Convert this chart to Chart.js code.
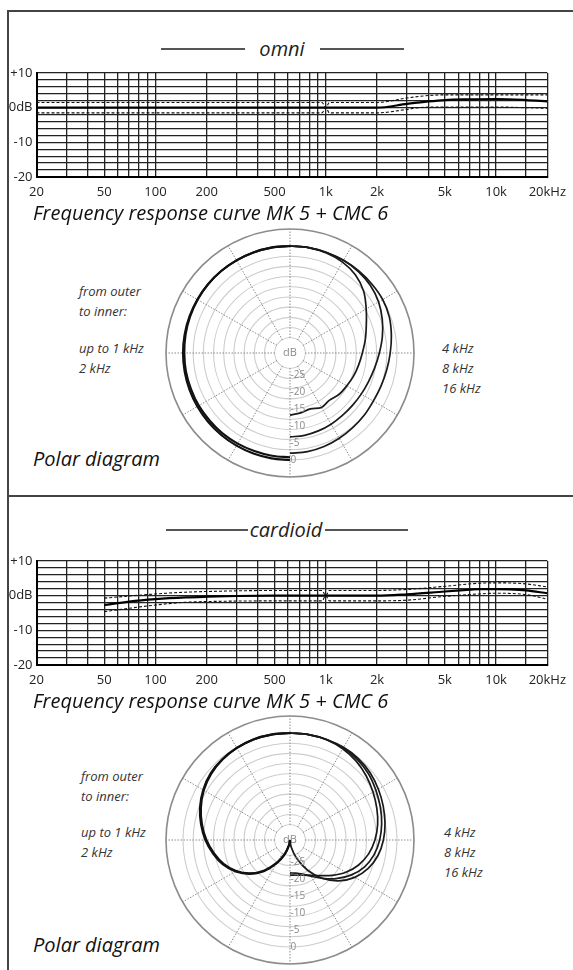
<!DOCTYPE html>
<html>
<head>
<meta charset="utf-8">
<script src="https://cdn.jsdelivr.net/npm/chart.js@4.4.1/dist/chart.umd.min.js"></script>
<style>
  body { margin: 0; background: #fff; }
  #page { position: relative; width: 573px; height: 970px; overflow: hidden; font-family: "Open Sans", "Noto Sans", sans-serif; color: #222; }
  .line { position: absolute; background: #444; }
  .rule { position: absolute; height: 1.5px; background: #555; }
  .title { position: absolute; font-size: 20px; font-style: italic; transform: translate(-50%, -50%); white-space: nowrap; color: #222; }
  .caption { position: absolute; font-size: 20px; font-style: italic; transform: translateY(-50%); white-space: nowrap; color: #111; }
  .note { position: absolute; font-size: 13px; font-style: italic; transform: translateY(-50%); white-space: nowrap; color: #333; }
  canvas { position: absolute; }
</style>
</head>
<body>
<div id="page">
  <!-- frame -->
  <div class="line" style="left:7px; top:10px; width:566px; height:1.5px"></div>
  <div class="line" style="left:7px; top:10px; width:1.5px; height:960px"></div>
  <div class="line" style="left:7px; top:495px; width:566px; height:1.5px"></div>

  <!-- omni -->
  <div class="rule" style="left:161px; top:48px; width:84px"></div>
  <div class="title" style="left:282px; top:48px">omni</div>
  <div class="rule" style="left:320px; top:48px; width:84px"></div>
  <canvas id="omniFreq" width="573" height="150" style="left:0; top:53px"></canvas>
  <div class="caption" style="left:33px; top:212px">Frequency response curve MK 5 + CMC 6</div>
  <canvas id="omniPolar" width="252" height="252" style="left:164px; top:227px"></canvas>
  <div class="note" style="left:79px; top:291px">from outer</div>
  <div class="note" style="left:79px; top:311px">to inner:</div>
  <div class="note" style="left:79px; top:348px">up to 1 kHz</div>
  <div class="note" style="left:79px; top:368px">2 kHz</div>
  <div class="note" style="left:442px; top:348px">4 kHz</div>
  <div class="note" style="left:442px; top:368px">8 kHz</div>
  <div class="note" style="left:442px; top:388px">16 kHz</div>
  <div class="caption" style="left:33px; top:458px">Polar diagram</div>

  <!-- cardioid -->
  <div class="rule" style="left:166px; top:529px; width:82px"></div>
  <div class="title" style="left:286px; top:529px">cardioid</div>
  <div class="rule" style="left:325px; top:529px; width:83px"></div>
  <canvas id="cardFreq" width="573" height="150" style="left:0; top:541px"></canvas>
  <div class="caption" style="left:33px; top:700px">Frequency response curve MK 5 + CMC 6</div>
  <canvas id="cardPolar" width="252" height="252" style="left:164px; top:714px"></canvas>
  <div class="note" style="left:81px; top:776px">from outer</div>
  <div class="note" style="left:81px; top:796px">to inner:</div>
  <div class="note" style="left:81px; top:832px">up to 1 kHz</div>
  <div class="note" style="left:81px; top:852px">2 kHz</div>
  <div class="note" style="left:444px; top:832px">4 kHz</div>
  <div class="note" style="left:444px; top:852px">8 kHz</div>
  <div class="note" style="left:444px; top:872px">16 kHz</div>
  <div class="caption" style="left:33px; top:944px">Polar diagram</div>
</div>

<script>
// Frequency axis: grid lines and labelled ticks
const freqGrid = [20, 30, 40, 50, 60, 70, 80, 90, 100, 200, 300, 400, 500, 600, 700, 800, 900,
  1000, 2000, 3000, 4000, 5000, 6000, 7000, 8000, 9000, 10000, 15000, 20000];
const freqTickValues = [20, 50, 100, 200, 500, 1000, 2000, 5000, 10000, 20000];
const freqTickLabels = ['20', '50', '100', '200', '500', '1k', '2k', '5k', '10k', '20kHz'];
const dbTickValues = [10, 0, -10, -20];
const dbTickLabels = ['+10', '0dB', '-10', '-20'];

// omni frequency response (dB)
const omniFreq = [20, 100, 1000, 2000, 3000, 4000, 5000, 7000, 10000, 15000, 20000];
const omniResp = [0, 0, 0, 0, 1.1, 1.8, 2.2, 2.4, 2.5, 2.2, 1.8];
const omniUpperFreq = [20, 950, 1000, 1050, 2000, 3000, 4000, 5000, 10000, 20000];
const omniUpper = [1.5, 1.5, 0, 1.5, 1.5, 2.8, 3.5, 3.7, 3.7, 3.7];
const omniLowerFreq = [20, 950, 1000, 1050, 2000, 3000, 3500, 5000, 10000, 15000, 20000];
const omniLower = [-1.5, -1.5, 0, -1.5, -1.5, -0.5, 0, 0.2, 0.2, 0, -0.2];

// cardioid frequency response (dB)
const cardFreq = [50, 70, 100, 150, 200, 300, 500, 1000, 2000, 3000, 5000, 7000, 8000, 10000, 12000, 15000, 20000];
const cardResp = [-2.7, -1.7, -1.0, -0.5, -0.3, -0.1, 0, 0, 0, 0.4, 1.2, 1.7, 1.9, 1.9, 1.8, 1.5, 0.7];
const cardTolFreq = [50, 100, 150, 200, 500, 950, 1000, 1050, 2000, 3000, 5000, 8000, 10000, 15000, 20000];
const cardUpper = [-0.7, 0.5, 1.0, 1.2, 1.5, 1.5, 0, 1.5, 1.5, 1.8, 2.7, 3.6, 3.7, 3.4, 2.5];
const cardLower = [-4.6, -2.7, -1.9, -1.7, -1.5, -1.5, 0, -1.5, -1.5, -1.3, -0.2, 0.5, 0.7, 0.3, -1.0];

// Polar diagrams: degrees from the front axis, one half of the circle each
const halfAngles = [0, 10, 20, 30, 40, 50, 60, 70, 80, 90, 100, 110, 120, 130, 140, 150, 160, 170, 180];
const polarRings = [-31.5, -27, -24, -21, -18, -15, -12, -9, -6, -3, 0, 5];
const polarLabelValues = [0, -5, -10, -15, -20, -25];
const polarLabels = ['0', '-5', '-10', '-15', '-20', '-25'];

// omni: low frequencies on the left half, high on the right half
const omniLow1k = [0, 0, 0, 0, 0, 0, 0, 0, 0, 0, 0, 0, 0, 0, 0, 0, 0, 0, 0];
const omniLow2k = [0, 0, 0, 0, 0, 0, -0.1, -0.2, -0.3, -0.4, -0.4, -0.5, -0.5, -0.6, -0.6, -0.7, -0.8, -0.8, -0.8];
const omniHigh4k = [0, 0, 0, 0, 0, 0, 0, -0.4, -1.2, -2.0, -2.6, -3.0, -3.2, -3.0, -2.8, -2.5, -2.2, -2.0, -2.0];
const omniHigh8k = [0, 0, 0, 0, -0.2, -0.6, -1.4, -2.6, -3.9, -5.2, -6.2, -6.9, -7.3, -7.5, -7.5, -7.3, -7.1, -6.9, -6.8];
const omniHigh16k = [0, 0, -0.2, -0.6, -1.5, -3.2, -5.6, -7.6, -9.0, -10.2, -11.0, -11.6, -12.2, -12.6, -13.4, -13.0, -14.0, -13.6, -13.2];

// cardioid
const cardLow1k = [0, 0, 0, -0.2, -0.5, -1.0, -2.0, -3.3, -4.9, -6.6, -8.5, -10.5, -13, -16, -19.5, -23.5, -27, -30, -31.5];
const cardLow2k = [0, 0, 0, -0.2, -0.6, -1.2, -2.2, -3.6, -5.2, -6.9, -8.8, -10.8, -13.2, -16.2, -19.8, -23.8, -27.3, -30.2, -31.5];
const cardHigh4k = [0, 0, 0, 0, -0.2, -0.7, -1.5, -2.3, -3.1, -4.0, -5.2, -7.0, -9.5, -12.8, -16.8, -21.3, -25.8, -29.3, -31.5];
const cardHigh8k = [0, 0, 0, -0.2, -0.6, -1.3, -2.3, -3.2, -4.1, -5.1, -6.4, -8.2, -10.8, -13.8, -16.8, -19.2, -20.8, -21.6, -21.8];
const cardHigh16k = [0, 0, -0.1, -0.5, -1.2, -2.2, -3.3, -4.3, -5.3, -6.5, -8.0, -10.0, -12.5, -15.3, -17.8, -19.5, -20.5, -21.0, -21.2];

const axisFont = { family: '"Open Sans", "Noto Sans", sans-serif', size: 13 };

function points(xs, ys) {
  return xs.map((x, i) => ({ x: x, y: ys[i] }));
}

function freqChart(id, resp, upper, lower) {
  const solid = { borderColor: '#000', borderWidth: 2.2, pointRadius: 0, cubicInterpolationMode: 'monotone' };
  const dashed = { borderColor: '#111', borderWidth: 1.1, borderDash: [3, 2], pointRadius: 0, cubicInterpolationMode: 'monotone' };
  new Chart(document.getElementById(id), {
    type: 'line',
    data: {
      datasets: [
        { ...dashed, data: upper },
        { ...dashed, data: lower },
        { ...solid, data: resp }
      ]
    },
    options: {
      responsive: false,
      animation: false,
      layout: { padding: { left: 0, right: 23, top: 20, bottom: 0 } },
      plugins: { legend: { display: false }, tooltip: { enabled: false } },
      scales: {
        x: {
          type: 'logarithmic',
          min: 20,
          max: 20000,
          afterBuildTicks: scale => { scale.ticks = freqGrid.map(v => ({ value: v })); },
          afterFit: scale => { scale.height = 26; },
          grid: { color: '#222', lineWidth: 1.3, drawTicks: false },
          border: { display: true, color: '#000', width: 2 },
          ticks: {
            autoSkip: false, maxRotation: 0, minRotation: 0, padding: 7,
            color: '#222', font: axisFont,
            callback: v => {
              const i = freqTickValues.indexOf(v);
              return i >= 0 ? freqTickLabels[i] : '';
            }
          }
        },
        y: {
          min: -20,
          max: 10,
          afterFit: scale => { scale.width = 36.5; },
          grid: { color: '#222', lineWidth: 1.3, drawTicks: false },
          border: { display: true, color: '#000', width: 2 },
          ticks: {
            stepSize: 2, autoSkip: false, padding: 4,
            color: '#222', font: axisFont,
            callback: v => {
              const i = dbTickValues.indexOf(v);
              return i >= 0 ? dbTickLabels[i] : '';
            }
          }
        }
      }
    }
  });
}

freqChart('omniFreq', points(omniFreq, omniResp), points(omniUpperFreq, omniUpper), points(omniLowerFreq, omniLower));
freqChart('cardFreq', points(cardFreq, cardResp), points(cardTolFreq, cardUpper), points(cardTolFreq, cardLower));

// full circle of angle labels: right half 0..180, then left half 190..350
const radarLabels = [...halfAngles, ...halfAngles.slice(1, -1).map(a => 360 - a).reverse()];
const emptyHalf = halfAngles.slice(1, -1).map(() => null);

function rightHalf(values) {
  return values.concat(emptyHalf);
}
function leftHalf(values) {
  return [values[0], ...emptyHalf, values[18], ...values.slice(1, 18).reverse()];
}

// white "dB" hub at the centre and dB labels down the rear axis
const polarDecor = {
  id: 'polarDecor',
  beforeDatasetsDraw(chart) {
    const r = chart.scales.r;
    const ctx = chart.ctx;
    const hub = r.getDistanceFromCenterForValue(-27);
    ctx.save();
    ctx.beginPath();
    ctx.arc(r.xCenter, r.yCenter, hub - 0.7, 0, Math.PI * 2);
    ctx.fillStyle = '#fff';
    ctx.fill();
    ctx.fillStyle = '#8a8a8a';
    ctx.font = '11px "Open Sans", sans-serif';
    ctx.textAlign = 'center';
    ctx.textBaseline = 'middle';
    ctx.fillText('dB', r.xCenter, r.yCenter);
    ctx.restore();
  },
  afterDatasetsDraw(chart) {
    const r = chart.scales.r;
    const ctx = chart.ctx;
    ctx.save();
    ctx.fillStyle = '#8a8a8a';
    ctx.font = '10px "Liberation Sans Narrow", "Open Sans", sans-serif';
    ctx.textAlign = 'left';
    ctx.textBaseline = 'middle';
    polarLabelValues.forEach((v, i) => {
      ctx.fillText(polarLabels[i], r.xCenter + 0.5, r.yCenter + r.getDistanceFromCenterForValue(v));
    });
    ctx.restore();
  }
};

function polarChart(id, low1k, low2k, high4k, high8k, high16k) {
  const low = { borderColor: '#111', borderWidth: 2.1, pointRadius: 0, fill: false, tension: 0.35 };
  const high = { borderColor: '#1a1a1a', borderWidth: 1.7, pointRadius: 0, fill: false, tension: 0.35 };
  new Chart(document.getElementById(id), {
    type: 'radar',
    data: {
      labels: radarLabels,
      datasets: [
        { ...low, label: 'up to 1 kHz', data: leftHalf(low1k) },
        { ...low, label: '2 kHz', data: leftHalf(low2k) },
        { ...high, label: '4 kHz', data: rightHalf(high4k) },
        { ...high, label: '8 kHz', data: rightHalf(high8k) },
        { ...high, label: '16 kHz', data: rightHalf(high16k) }
      ]
    },
    options: {
      responsive: false,
      animation: false,
      spanGaps: false,
      layout: { padding: 2 },
      plugins: { legend: { display: false }, tooltip: { enabled: false } },
      scales: {
        r: {
          min: -31.5,
          max: 5,
          afterBuildTicks: scale => { scale.ticks = polarRings.map(v => ({ value: v })); },
          ticks: { display: false },
          pointLabels: { display: false },
          grid: {
            circular: true,
            color: ctx => ctx.tick && ctx.tick.value === 5 ? '#8c8c8c' : '#cdcdcd',
            lineWidth: ctx => ctx.tick && ctx.tick.value === 5 ? 1.6 : 1.1
          },
          angleLines: {
            color: '#8a8a8a',
            lineWidth: ctx => ctx.index % 3 === 0 ? 1 : 0,
            borderDash: [1.5, 1.5]
          }
        }
      }
    },
    plugins: [polarDecor]
  });
}

polarChart('omniPolar', omniLow1k, omniLow2k, omniHigh4k, omniHigh8k, omniHigh16k);
polarChart('cardPolar', cardLow1k, cardLow2k, cardHigh4k, cardHigh8k, cardHigh16k);
</script>
</body>
</html>
